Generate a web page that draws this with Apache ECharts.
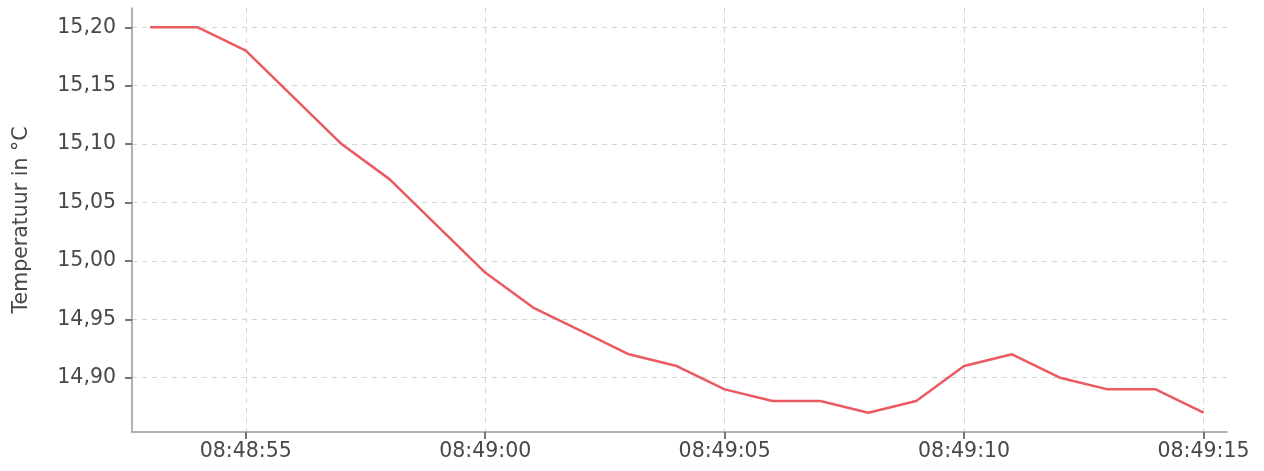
<!DOCTYPE html>
<html>
<head>
<meta charset="utf-8">
<script src="https://cdn.jsdelivr.net/npm/echarts@6/dist/echarts.min.js"></script>
<style>
html,body{margin:0;padding:0;background:#fff;}
#c{width:1264px;height:471px;}
</style>
</head>
<body>
<div id="c"></div>
<script>
const times = ["08:48:53","08:48:54","08:48:55","08:48:56","08:48:57","08:48:58","08:48:59",
  "08:49:00","08:49:01","08:49:02","08:49:03","08:49:04","08:49:05","08:49:06","08:49:07",
  "08:49:08","08:49:09","08:49:10","08:49:11","08:49:12","08:49:13","08:49:14","08:49:15"];
const temps = [15.20,15.20,15.18,15.14,15.10,15.07,15.03,
  14.99,14.96,14.94,14.92,14.91,14.89,14.88,14.88,
  14.87,14.88,14.91,14.92,14.90,14.89,14.89,14.87];
const xTickLabels = ["08:48:55","08:49:00","08:49:05","08:49:10","08:49:15"];
const yTickValues = [14.90,14.95,15.00,15.05,15.10,15.15,15.20];
const yName = "Temperatuur in °C";

function toSec(s){const p=s.split(':').map(Number);return p[0]*3600+p[1]*60+p[2];}
function fmt(v){v=Math.round(v);const h=Math.floor(v/3600),m=Math.floor(v%3600/60),s=v%60;
  const z=n=>String(n).padStart(2,'0');return z(h)+':'+z(m)+':'+z(s);}
const secs = times.map(toSec);
const data = secs.map((s,i)=>[s,temps[i]]);
const xTicks = xTickLabels.map(toSec);
const yMinD = Math.min(...temps), yMaxD = Math.max(...temps), yPad=(yMaxD-yMinD)*0.05;

const font = "DejaVu Sans";
const tickStyle = {show:true,inside:false,length:7,lineStyle:{color:'#777',width:2,opacity:1}};
const chart = echarts.init(document.getElementById('c'));
chart.setOption({
  animation:false,
  grid:{left:132,right:37,top:8,bottom:39},
  xAxis:{
    type:'value',
    min:secs[0]-0.376, max:secs[secs.length-1]+0.49,
    axisLine:{show:true,lineStyle:{color:'#999',width:1.5}},
    axisTick:Object.assign({customValues:xTicks},tickStyle),
    axisLabel:{customValues:xTicks,formatter:v=>fmt(v),color:'#484848',fontFamily:font,fontSize:20.5,margin:9},
    splitLine:{show:true,lineStyle:{color:'#d4d4d4',type:[5,5],width:1}}
  },
  yAxis:{
    type:'value',
    min:yMinD-yPad, max:yMaxD+yPad,
    name:yName, nameLocation:'middle', nameGap:100, nameRotate:90,
    nameTextStyle:{color:'#484848',fontFamily:font,fontSize:20.5},
    axisLine:{show:true,lineStyle:{color:'#999',width:1.5}},
    axisTick:Object.assign({customValues:yTickValues},tickStyle),
    axisLabel:{customValues:yTickValues,formatter:v=>v.toFixed(2).replace('.',','),color:'#484848',fontFamily:font,fontSize:20.5,margin:16},
    splitLine:{show:true,lineStyle:{color:'#d4d4d4',type:[5,5],width:1}}
  },
  series:[{
    type:'line',
    data:data,
    showSymbol:false,
    lineStyle:{color:'#ea5a60',width:2.5},
    itemStyle:{color:'#ea5a60'}
  }]
});
</script>
</body>
</html>
